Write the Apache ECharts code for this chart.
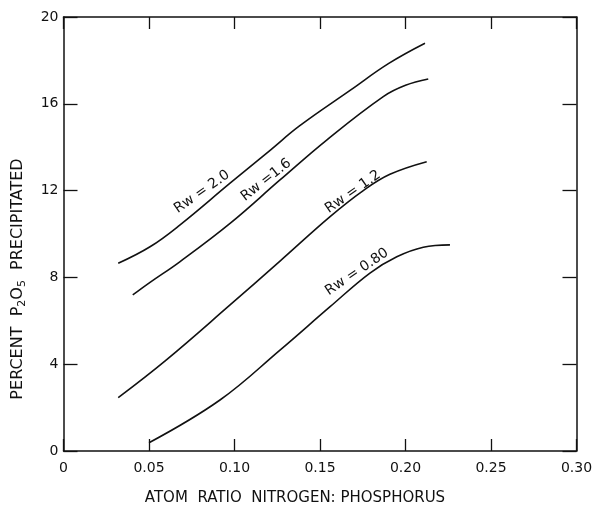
<!DOCTYPE html>
<html><head><meta charset="utf-8">
<script src="https://cdn.jsdelivr.net/npm/echarts@6/dist/echarts.min.js"></script>
<style>html,body{margin:0;padding:0;background:#fff}#c{width:593px;height:505px}</style>
</head><body><div id="c"></div>
<script>
const xTicks = [0, 0.05, 0.10, 0.15, 0.20, 0.25, 0.30];
const xTickLabels = ['0', '0.05', '0.10', '0.15', '0.20', '0.25', '0.30'];
const yTicks = [0, 4, 8, 12, 16, 20];
const rw20 = [[0.032, 8.65], [0.0506, 9.41], [0.068, 10.41], [0.0974, 12.34], [0.121, 13.87], [0.138, 14.98], [0.168, 16.64], [0.19, 17.85], [0.2114, 18.79]];
const rw16 = [[0.0405, 7.19], [0.0506, 7.77], [0.068, 8.72], [0.0974, 10.49], [0.1266, 12.49], [0.1539, 14.33], [0.187, 16.33], [0.2, 16.85], [0.2133, 17.14]];
const rw12 = [[0.032, 2.46], [0.060, 4.19], [0.0974, 6.73], [0.1266, 8.75], [0.1559, 10.8], [0.1753, 12.0], [0.1909, 12.75], [0.2124, 13.33]];
const rw08 = [[0.050, 0.38], [0.0915, 2.35], [0.1266, 4.65], [0.1559, 6.65], [0.1792, 8.2], [0.1949, 8.95], [0.2104, 9.39], [0.226, 9.5]];
const labelTexts = ['Rw = 2.0', 'Rw =1.6', 'Rw = 1.2', 'Rw = 0.80'];
const labelCoords = [[0.081, 11.94], [0.1185, 12.49], [0.1693, 11.94], [0.1716, 8.25]];
const labelAngles = [35, 38, 35, 34];

const chart = echarts.init(document.getElementById('c'));
const FONT = 'DejaVu Sans';
const lineStyle = {color: '#111', width: 1.6};
function mk(data){ return {type: 'line', data: data, smooth: 0.4, showSymbol: false, symbol: 'none', lineStyle: lineStyle, xAxisIndex: 0, yAxisIndex: 0, silent: true}; }
const axisLineStyle = {show: true, onZero: false, lineStyle: {color: '#111', width: 1.5}};
const tickStyle = {color: '#111', width: 1.3};
chart.setOption({
  animation: false,
  grid: {left: 63.5, right: 16.5, top: 17, bottom: 54, containLabel: false, outerBoundsMode: 'none'},
  xAxis: [
    {type: 'value', position: 'bottom', min: 0, max: 0.30, interval: 0.05, axisLine: axisLineStyle, splitLine: {show: false},
      axisTick: {inside: true, length: 12, lineStyle: tickStyle},
      axisLabel: {margin: 10, color: '#111', fontFamily: FONT, fontSize: 14,
        formatter: v => { const i = xTicks.findIndex(t => Math.abs(t - v) < 1e-6); return i >= 0 ? xTickLabels[i] : ''; }},
      name: 'ATOM  RATIO  NITROGEN: PHOSPHORUS', nameLocation: 'middle', nameGap: 40,
      nameTextStyle: {color: '#111', fontFamily: FONT, fontSize: 15, padding: [0, 50, 0, 0]}},
    {type: 'value', position: 'top', min: 0, max: 0.30, interval: 0.05, axisLine: axisLineStyle, splitLine: {show: false},
      axisTick: {inside: true, length: 12, lineStyle: tickStyle}, axisLabel: {show: false}}
  ],
  yAxis: [
    {type: 'value', position: 'left', min: 0, max: 20, interval: 4, axisLine: axisLineStyle, splitLine: {show: false},
      axisTick: {inside: true, length: 14, lineStyle: tickStyle},
      axisLabel: {margin: 5, color: '#111', fontFamily: FONT, fontSize: 14},
      name: '{t|PERCENT  P}{s|2}{t|O}{s|5}{t|  PRECIPITATED}', nameLocation: 'middle', nameGap: 36,
      nameTextStyle: {padding: [0, 90, 0, 0], rich: {t: {color: '#111', fontFamily: FONT, fontSize: 16}, s: {color: '#111', fontFamily: FONT, fontSize: 11, padding: [9, 0, 0, 0]}}}},
    {type: 'value', position: 'right', min: 0, max: 20, interval: 4, axisLine: axisLineStyle, splitLine: {show: false},
      axisTick: {inside: true, length: 14, lineStyle: tickStyle}, axisLabel: {show: false}}
  ],
  series: [mk(rw20), mk(rw16), mk(rw12), mk(rw08)]
});
const g = labelTexts.map((t, i) => {
  const p = chart.convertToPixel({xAxisIndex: 0, yAxisIndex: 0}, labelCoords[i]);
  return {type: 'text', x: p[0], y: p[1], rotation: labelAngles[i] * Math.PI / 180,
    style: {text: t, fill: '#111', font: '14px ' + FONT, align: 'center', verticalAlign: 'middle'}};
});
chart.setOption({graphic: g});
</script></body></html>
